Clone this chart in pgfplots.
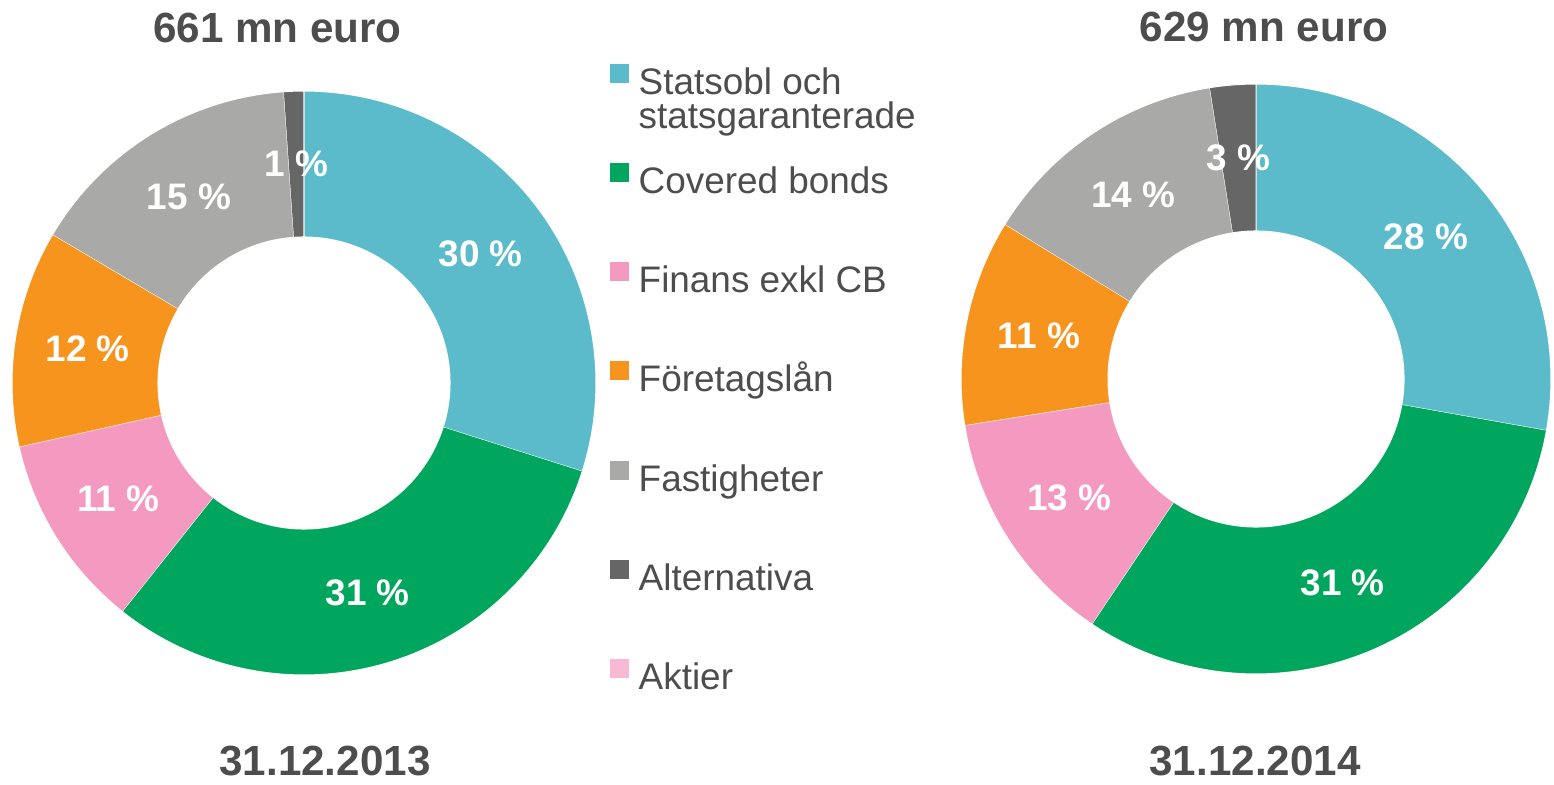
\documentclass[border=0pt]{standalone}
\usepackage{fontspec}
\setmainfont{Liberation Sans}
\usepackage{pgfplots}
\pgfplotsset{compat=1.18}
\definecolor{cStat}{HTML}{5BBBCB}
\definecolor{cCov}{HTML}{00A65D}
\definecolor{cFin}{HTML}{F49AC1}
\definecolor{cFor}{HTML}{F7941E}
\definecolor{cFast}{HTML}{A9A9A8}
\definecolor{cAlt}{HTML}{666666}
\definecolor{cAkt}{HTML}{F7B9D3}
\definecolor{txt}{HTML}{4D4D4D}
% #1 extra options, #2 colour, #3 cx, #4 cy, #5 outer R, #6 inner r, #7 from (%), #8 to (%)
\newcommand{\slice}[8][]{%
  \addplot[#1, fill=#2, draw=white, line width=0.3pt, domain=0:2.1, samples=211, variable=\t]
  ({#3+(#5-(#5-#6)*max(0,min(1,10*(\t-1))))*cos(90-3.6*(#7+(#8-#7)*(min(\t,1)-max(0,min(1,\t-1.1)))))},
   {#4+(#5-(#5-#6)*max(0,min(1,10*(\t-1))))*sin(90-3.6*(#7+(#8-#7)*(min(\t,1)-max(0,min(1,\t-1.1)))))});
}
% label: #1 cx, #2 cy, #3 radius, #4 from, #5 to, #6 text
\newcommand{\lab}[6]{\node[font=\bfseries\fontsize{10.5}{12}\selectfont, text=white] at ([shift={({90-1.8*(#4+#5)}:#3)}]#1,#2) {#6};}
\begin{document}
\begin{tikzpicture}
\useasboundingbox (0,0) rectangle (15.54,7.84);
\begin{axis}[
  x=1cm, y=1cm, xmin=0, xmax=15.54, ymin=0, ymax=7.84,
  hide axis, clip=false, at={(0,0)}, anchor=south west,
  legend image code/.code={\path[#1, draw=none] (0cm,0.015cm) rectangle (0.19cm,0.205cm);},
  legend style={at={(axis cs:6.093,7.212)}, anchor=north west, draw=none, fill=none,
    inner sep=0pt, row sep=0.5875cm, column sep=0.097cm,
    font=\fontsize{10.5}{12}\selectfont, text=txt,
    nodes={inner sep=0pt, text height=0.3cm, text depth=0.1cm}},
  legend cell align=left,
]
% 31.12.2013 (left), cumulative shares in percent
\slice{cStat}{3.04}{4.01}{2.92}{1.46}{0}{29.9}
\slice{cCov}{3.04}{4.01}{2.92}{1.46}{29.9}{60.7}
\slice{cFin}{3.04}{4.01}{2.92}{1.46}{60.7}{71.5}
\slice{cFor}{3.04}{4.01}{2.92}{1.46}{71.5}{83.5}
\slice{cFast}{3.04}{4.01}{2.92}{1.46}{83.5}{98.9}
\slice{cAlt}{3.04}{4.01}{2.92}{1.46}{98.9}{100}
\addlegendimage{fill=cAkt, draw=none}
% 31.12.2014 (right)
\slice[forget plot]{cStat}{12.56}{4.05}{2.95}{1.48}{0}{27.8}
\slice[forget plot]{cCov}{12.56}{4.05}{2.95}{1.48}{27.8}{59.4}
\slice[forget plot]{cFin}{12.56}{4.05}{2.95}{1.48}{59.4}{72.5}
\slice[forget plot]{cFor}{12.56}{4.05}{2.95}{1.48}{72.5}{83.8}
\slice[forget plot]{cFast}{12.56}{4.05}{2.95}{1.48}{83.8}{97.5}
\slice[forget plot]{cAlt}{12.56}{4.05}{2.95}{1.48}{97.5}{100}
\legend{Statsobl och, Covered bonds, Finans exkl CB, Företagslån, Fastigheter, Alternativa, Aktier}
\end{axis}
\node[anchor=base west, font=\fontsize{10.5}{12}\selectfont, text=txt, inner sep=0pt] at (6.38,6.557) {statsgaranterade};
% titles
\node[font=\bfseries\fontsize{12}{14}\selectfont, text=txt] at (2.775,7.565) {661 mn euro};
\node[font=\bfseries\fontsize{12}{14}\selectfont, text=txt] at (12.64,7.57) {629 mn euro};
\node[font=\bfseries\fontsize{12}{14}\selectfont, text=txt] at (3.25,0.23) {31.12.2013};
\node[font=\bfseries\fontsize{12}{14}\selectfont, text=txt] at (12.55,0.23) {31.12.2014};
% slice labels
\lab{3.04}{4.01}{2.19}{0}{29.9}{30 \%}
\lab{3.04}{4.01}{2.19}{29.9}{60.7}{31 \%}
\lab{3.04}{4.01}{2.19}{60.7}{71.5}{11 \%}
\lab{3.04}{4.01}{2.19}{71.5}{83.5}{12 \%}
\lab{3.04}{4.01}{2.19}{83.5}{98.9}{15 \%}
\lab{3.04}{4.01}{2.19}{98.9}{100}{1 \%}
\lab{12.56}{4.05}{2.215}{0}{27.8}{28 \%}
\lab{12.56}{4.05}{2.215}{27.8}{59.4}{31 \%}
\lab{12.56}{4.05}{2.215}{59.4}{72.5}{13 \%}
\lab{12.56}{4.05}{2.215}{72.5}{83.8}{11 \%}
\lab{12.56}{4.05}{2.215}{83.8}{97.5}{14 \%}
\lab{12.56}{4.05}{2.215}{97.5}{100}{3 \%}
\end{tikzpicture}
\end{document}
